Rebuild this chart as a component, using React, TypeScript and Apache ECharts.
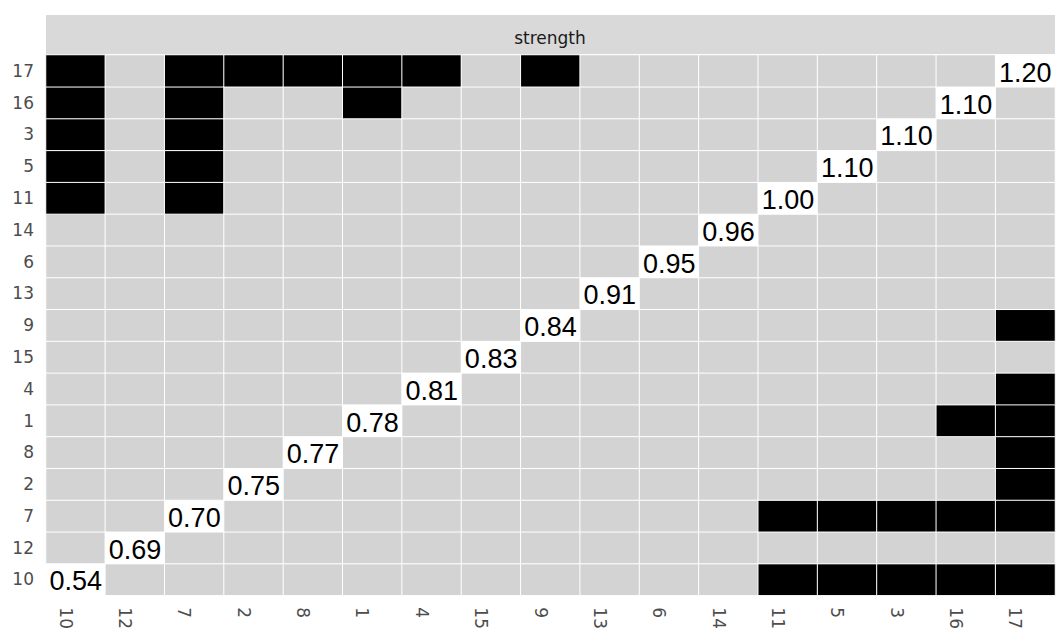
import React, { useEffect, useRef } from "react";
import * as echarts from "echarts";

// Category order (x left→right, y bottom→top)
const categories = ["10", "12", "7", "2", "8", "1", "4", "15", "9", "13", "6", "14", "11", "5", "3", "16", "17"];
// Strength value per category (shown on the diagonal)
const strength = [0.54, 0.69, 0.7, 0.75, 0.77, 0.78, 0.81, 0.83, 0.84, 0.91, 0.95, 0.96, 1.0, 1.1, 1.1, 1.1, 1.2];
// Pairs marked as significant (drawn black, symmetric)
const sigPairs: [string, string][] = [
  ["17", "10"], ["17", "7"], ["17", "2"], ["17", "8"], ["17", "1"], ["17", "4"], ["17", "9"],
  ["16", "10"], ["16", "7"], ["16", "1"],
  ["3", "10"], ["3", "7"],
  ["5", "10"], ["5", "7"],
  ["11", "10"], ["11", "7"],
];
const stripTitle = "strength";

const FONT = "'Liberation Sans', Arial, Helvetica, sans-serif";
const TICK_FONT = "'DejaVu Sans', Verdana, sans-serif";

export default function App() {
  const ref = useRef<HTMLDivElement>(null);
  useEffect(() => {
    if (!ref.current) return;
    const chart = echarts.init(ref.current, undefined, { renderer: "svg" });
    const n = categories.length;
    const sig = new Set<string>();
    sigPairs.forEach(([a, b]) => {
      const ia = categories.indexOf(a);
      const ib = categories.indexOf(b);
      sig.add(ia + "," + ib);
      sig.add(ib + "," + ia);
    });
    const data: any[] = [];
    for (let x = 0; x < n; x++) {
      for (let y = 0; y < n; y++) {
        if (x === y) {
          data.push({
            value: [x, y, 2],
            label: {
              show: true,
              formatter: strength[x].toFixed(2),
              fontSize: 27,
              color: "#000",
              fontFamily: FONT,
              offset: [0, 2],
            },
          });
        } else {
          data.push({ value: [x, y, sig.has(x + "," + y) ? 1 : 0] });
        }
      }
    }
    chart.setOption({
      animation: false,
      backgroundColor: "#fff",
      grid: { left: 46, right: 1, top: 55, bottom: 34, containLabel: false },
      xAxis: {
        type: "category",
        data: categories,
        axisLine: { show: false },
        axisTick: { show: false },
        splitLine: { show: false },
        axisLabel: {
          rotate: -90,
          color: "#4d4d4d",
          fontSize: 17,
          fontFamily: TICK_FONT,
          margin: 12,
          verticalAlign: "top",
          lineHeight: 20,
          interval: 0,
        },
      },
      yAxis: {
        type: "category",
        data: categories,
        axisLine: { show: false },
        axisTick: { show: false },
        splitLine: { show: false },
        axisLabel: {
          color: "#4d4d4d",
          fontSize: 17,
          fontFamily: TICK_FONT,
          margin: 12,
          interval: 0,
          padding: [4, 0, 0, 0],
        },
      },
      visualMap: {
        show: false,
        type: "piecewise",
        dimension: 2,
        pieces: [
          { value: 0, color: "#d3d3d3" },
          { value: 1, color: "#000000" },
          { value: 2, color: "#ffffff" },
        ],
      },
      graphic: [
        {
          type: "rect",
          shape: { x: 46, y: 15, width: 1009, height: 39 },
          style: { fill: "#d9d9d9" },
          silent: true,
        },
        {
          type: "text",
          x: 550,
          y: 38,
          style: {
            text: stripTitle,
            fill: "#1a1a1a",
            fontSize: 17,
            fontFamily: TICK_FONT,
            align: "center",
            verticalAlign: "middle",
          },
          silent: true,
        },
      ],
      series: [
        {
          type: "heatmap",
          data,
          itemStyle: { borderColor: "#ffffff", borderWidth: 1 },
          label: { show: false },
          emphasis: { disabled: true },
        },
      ],
    });
    return () => chart.dispose();
  }, []);
  return (
    <div
      ref={ref}
      style={{ position: "fixed", left: 0, top: 0, width: 1056, height: 632 }}
    />
  );
}
